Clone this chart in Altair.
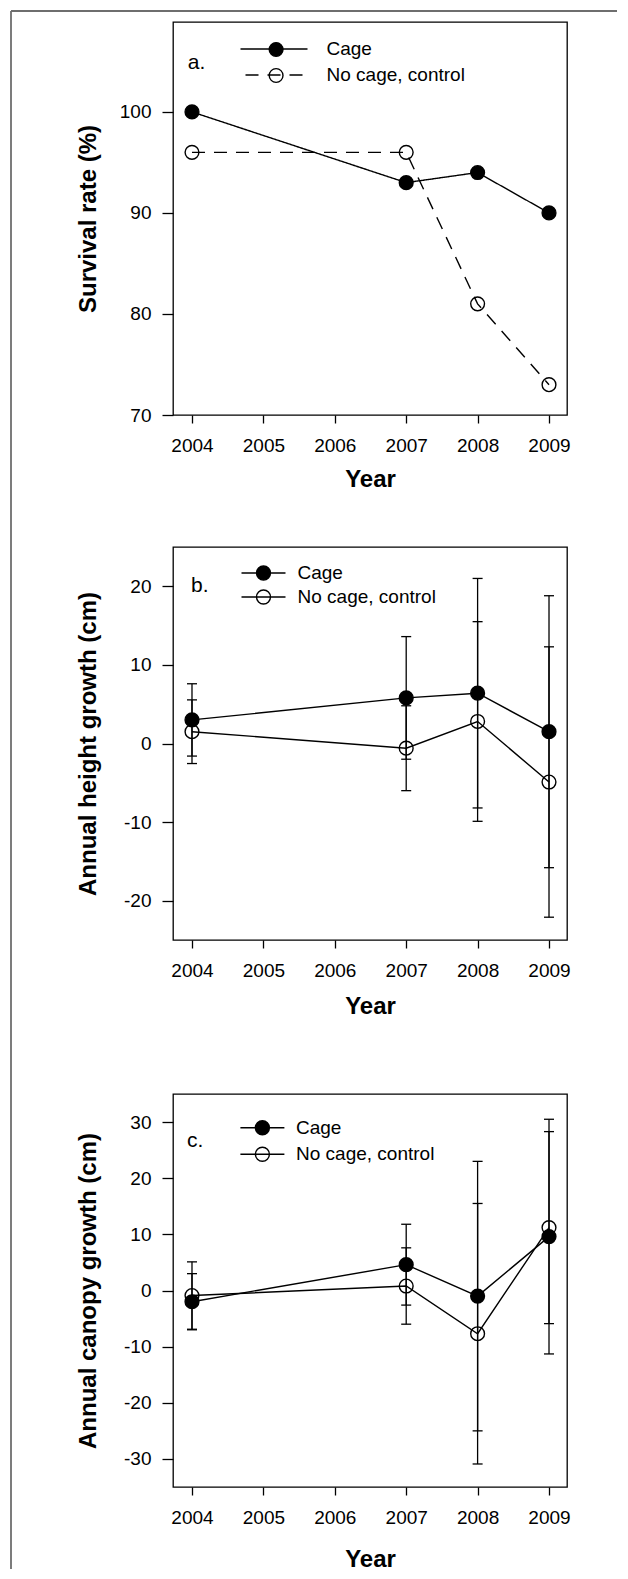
import altair as alt
import pandas as pd

# ---------------- data ----------------
years = [2004, 2007, 2008, 2009]
series = ["Cage", "No cage, control"]
year_ticks = [2004, 2005, 2006, 2007, 2008, 2009]

surv_cage = [100, 93, 94, 90]
surv_ctrl = [96, 96, 81, 73]

height_cage = [3.0, 5.8, 6.4, 1.5]
height_cage_err = [4.6, 7.8, 14.6, 17.3]
height_ctrl = [1.5, -0.6, 2.8, -4.9]
height_ctrl_err = [4.05, 5.4, 12.7, 17.2]

canopy_cage = [-2.0, 4.6, -1.0, 9.6]
canopy_cage_err = [5.0, 7.2, 24.0, 20.9]
canopy_ctrl = [-0.9, 0.8, -7.7, 11.2]
canopy_ctrl_err = [6.0, 6.8, 23.2, 17.1]

ticks_a = [70, 80, 90, 100]
ticks_b = [-20, -10, 0, 10, 20]
ticks_c = [-30, -20, -10, 0, 10, 20, 30]

FONT = "Liberation Sans"
W, H = 394, 393
X_DOMAIN = [2003.734, 2009.252]


def make_df(cage, ctrl, cage_err=None, ctrl_err=None):
    rows = []
    for s, vals, errs in ((series[0], cage, cage_err), (series[1], ctrl, ctrl_err)):
        for i, yr in enumerate(years):
            r = {"year": yr, "value": vals[i], "series": s}
            if errs is not None:
                r["lo"] = vals[i] - errs[i]
                r["hi"] = vals[i] + errs[i]
            rows.append(r)
    return pd.DataFrame(rows)


def circle(r):
    return f"M{-r},0A{r},{r} 0 1,0 {r},0A{r},{r} 0 1,0 {-r},0Z"


def leg_common(**kw):
    d = dict(padding=0, symbolStrokeWidth=1.4, symbolStrokeColor="black", clipHeight=19,
             labelFont=FONT, labelFontSize=19, labelColor="black", labelLimit=400,
             titleFont=FONT, titleFontSize=21, titleFontWeight="normal", titleColor="black")
    d.update(kw)
    return alt.Legend(**d)


def axes(year_y, ydomain, yticks, ytitle):
    X = alt.X("year:Q", scale=alt.Scale(domain=X_DOMAIN, nice=False, zero=False),
              axis=alt.Axis(values=year_ticks, format="d", title="Year",
                            titleX=W / 2, titleY=year_y, titleBaseline="middle"))
    yscale = alt.Scale(domain=ydomain, nice=False, zero=False)
    yaxis = alt.Axis(values=yticks, labelExpr="'' + datum.value", title=ytitle,
                     titleX=-85, titleY=H / 2, titleAngle=270, titleBaseline="middle")
    return X, yscale, yaxis


fill_scale = alt.Scale(domain=series, range=["black", "transparent"])
frame = alt.ViewBackground(stroke="black", strokeWidth=1.3)


def errorbar_layers(base, X, yscale, yaxis):
    out = [base.mark_rule(color="black", strokeWidth=1.3).encode(
        x=X, y=alt.Y("lo:Q", scale=yscale, axis=yaxis), y2="hi:Q")]
    for f in ("lo", "hi"):
        out.append(base.mark_tick(orient="horizontal", size=10, thickness=1.3,
                                  color="black", opacity=1).encode(
            x=X, y=alt.Y(f"{f}:Q", scale=yscale, axis=yaxis)))
    return out


one = pd.DataFrame({"k": [0]})

# ---------------- panel a ----------------
df_a = make_df(surv_cage, surv_ctrl)
Xa, ysa, yaa = axes(64, [70, 108.9], ticks_a, "Survival rate (%)")
base_a = alt.Chart(df_a)
leg_a_line = leg_common(title="a.", titleOrient="left", titleAnchor="middle",
                        titlePadding=33.8, orient="none", legendX=14.7, legendY=17.5,
                        symbolType="stroke", symbolSize=4489, symbolOffset=0,
                        symbolDashOffset=17, labelOffset=18, rowPadding=6)
leg_a_pts = leg_common(title=None, orient="top-left", offset=17.5, symbolType="circle",
                       symbolSize=190, symbolOffset=75.6, labelExpr="''", rowPadding=6)
line_a = base_a.mark_line(color="black", strokeWidth=1.4).encode(
    x=Xa, y=alt.Y("value:Q", scale=ysa, axis=yaa),
    strokeDash=alt.StrokeDash("series:N", scale=alt.Scale(domain=series, range=[[1, 0], [13, 9]]),
                              legend=leg_a_line))
pts_a = base_a.mark_point(shape="circle", size=190, strokeWidth=1.4, color="black",
                          opacity=1).encode(
    x=Xa, y=alt.Y("value:Q", scale=ysa, axis=yaa),
    fill=alt.Fill("series:N", scale=fill_scale, legend=leg_a_pts))
border_l = alt.Chart(one).mark_rule(color="#6e6e6e", strokeWidth=1.8).encode(
    x=alt.value(-162), y=alt.value(-11), y2=alt.value(1547))
border_t = alt.Chart(one).mark_rule(color="#6e6e6e", strokeWidth=1.8).encode(
    x=alt.value(-162), x2=alt.value(444), y=alt.value(-11))
pa = alt.layer(line_a, pts_a, border_l, border_t).properties(width=W, height=H, view=frame)

# ---------------- panels b, c ----------------
rb = 0.318
path_bc = "M-1,0H1" + circle(rb)


def panel_bc(df, ydomain, yticks, ytitle, letter, year_y, lx, ly, tpad, loff, lpad):
    X, ys, ya = axes(year_y, ydomain, yticks, ytitle)
    base = alt.Chart(df)
    leg = leg_common(title=letter, titleOrient="left", titleAnchor="middle",
                     titlePadding=tpad, orient="none", legendX=lx, legendY=ly,
                     symbolType=path_bc, symbolSize=1936, symbolOffset=0,
                     labelOffset=loff, rowPadding=lpad)
    layers = errorbar_layers(base, X, ys, ya)
    layers.append(base.mark_line(color="black", strokeWidth=1.4).encode(
        x=X, y=alt.Y("value:Q", scale=ys, axis=ya), detail="series:N"))
    layers.append(base.mark_point(shape="circle", size=190, strokeWidth=1.4, color="black",
                                  opacity=1).encode(
        x=X, y=alt.Y("value:Q", scale=ys, axis=ya),
        fill=alt.Fill("series:N", scale=fill_scale, legend=leg)))
    return alt.layer(*layers).properties(width=W, height=H, view=frame)


df_b = make_df(height_cage, height_ctrl, height_cage_err, height_ctrl_err)
df_c = make_df(canopy_cage, canopy_ctrl, canopy_cage_err, canopy_ctrl_err)
pb = panel_bc(df_b, [-25, 25], ticks_b, "Annual height growth (cm)", "b.", 66,
              18, 16.5, 31.5, 11, 4)
pc = panel_bc(df_c, [-35, 35], ticks_c, "Annual canopy growth (cm)", "c.", 72,
              14, 24.2, 35.4, 10.6, 6.6)


def spacer(h):
    return alt.Chart(one).mark_point(opacity=0).encode(
        x=alt.value(0), y=alt.value(0)).properties(width=W, height=h)


chart = alt.vconcat(pa, spacer(132), pb, spacer(154), pc, spacing=0, bounds="flush").properties(
    padding={"left": 1, "top": 1, "right": 0, "bottom": 0}
).configure_view(stroke="transparent").configure_axis(
    labelFont=FONT, labelFontSize=19, labelColor="black",
    titleFont=FONT, titleFontSize=24, titleFontWeight="bold", titleColor="black",
    tickColor="black", tickWidth=1.3, domain=False, grid=False
).configure_axisX(tickSize=8, labelPadding=13).configure_axisY(tickSize=11, labelPadding=11)

chart.save("out.html", embed_options={"renderer": "svg", "actions": False})
